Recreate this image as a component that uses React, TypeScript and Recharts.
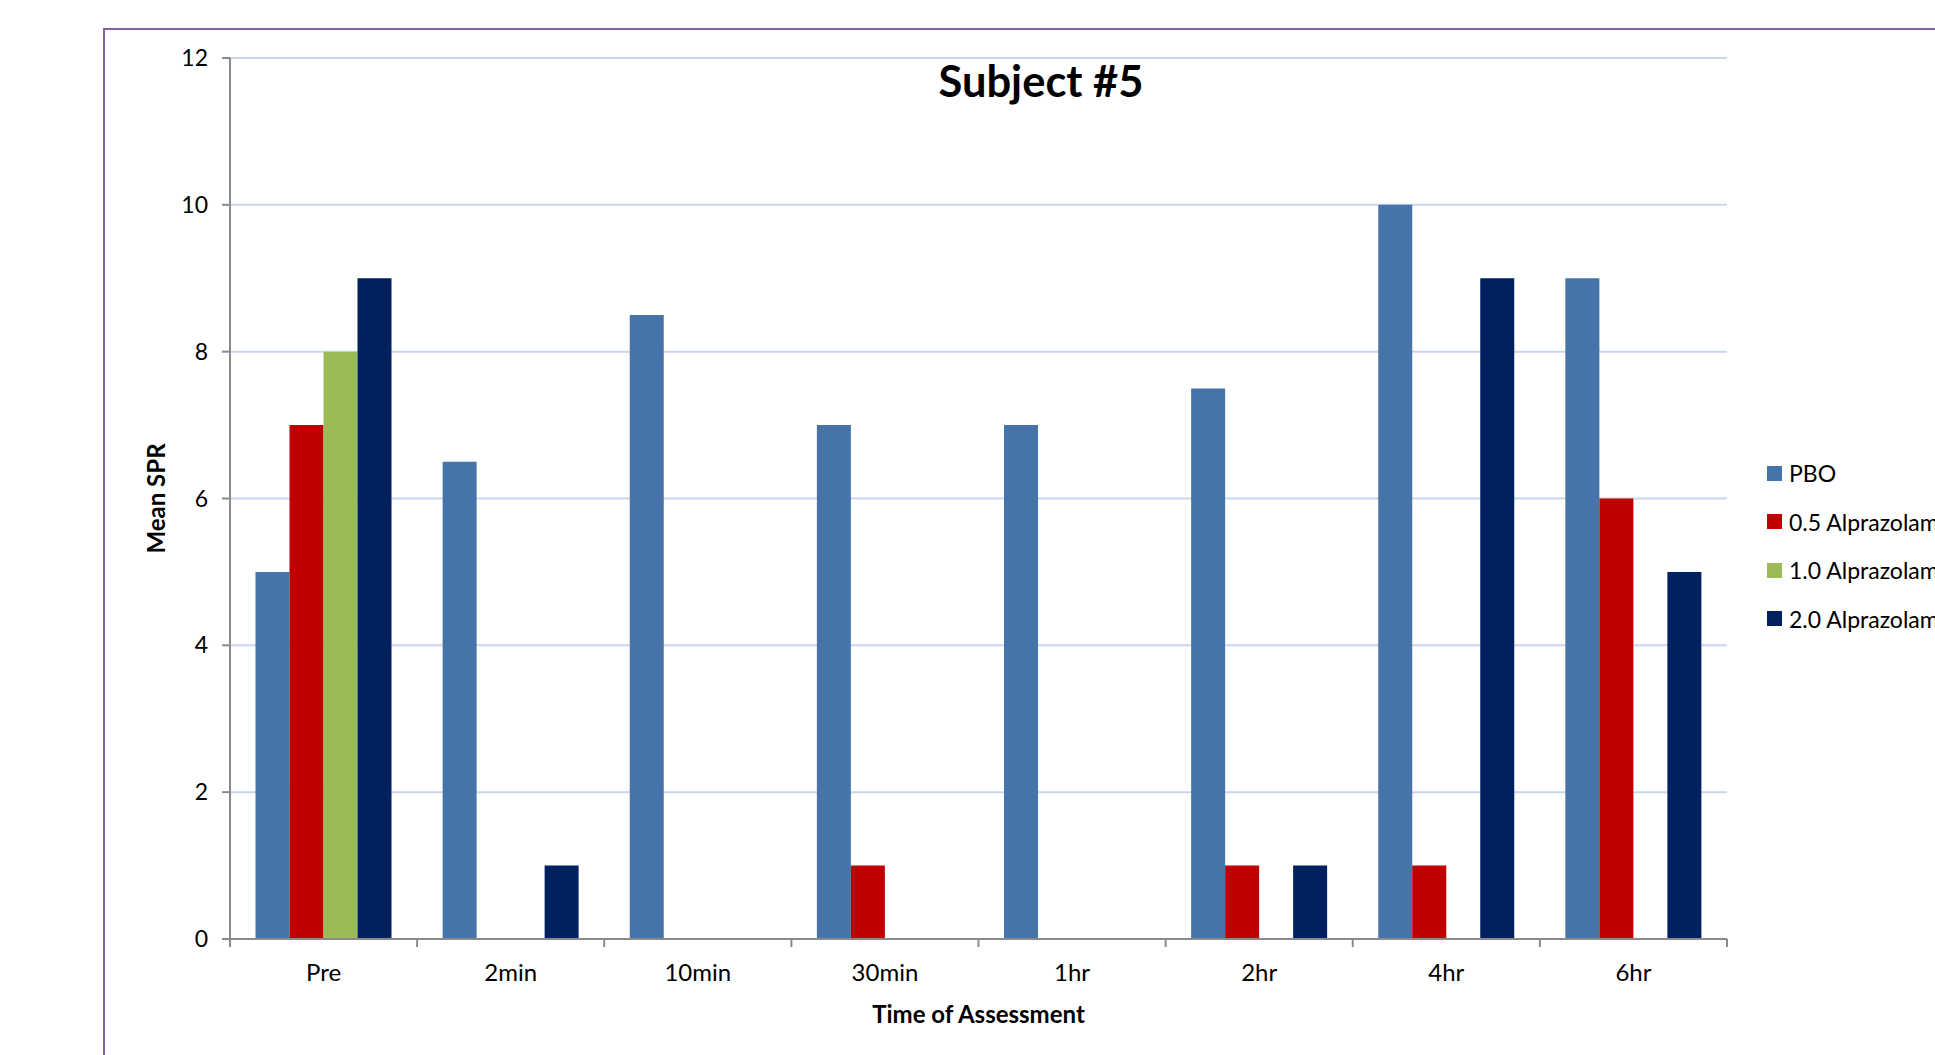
import React from 'react';
import { BarChart, Bar, XAxis, YAxis, CartesianGrid, Legend } from 'recharts';

const categories = ['Pre', '2min', '10min', '30min', '1hr', '2hr', '4hr', '6hr'];
const pbo = [5, 6.5, 8.5, 7, 7, 7.5, 10, 9];
const alp05 = [7, 0, 0, 1, 0, 1, 1, 6];
const alp10 = [8, 0, 0, 0, 0, 0, 0, 0];
const alp20 = [9, 1, 0, 0, 0, 1, 9, 5];
const yTicks = [0, 2, 4, 6, 8, 10, 12];

const series = [
  { key: 'pbo', name: 'PBO', color: '#4673A8', values: pbo },
  { key: 'alp05', name: '0.5 Alprazolam', color: '#C00000', values: alp05 },
  { key: 'alp10', name: '1.0 Alprazolam', color: '#9BBB59', values: alp10 },
  { key: 'alp20', name: '2.0 Alprazolam', color: '#002060', values: alp20 },
];

const data = categories.map((c, i) => {
  const row: Record<string, string | number> = { time: c };
  series.forEach((s) => {
    row[s.key] = s.values[i];
  });
  return row;
});

const W = 1935;
const H = 1055;
const MARGIN = { top: 58, right: 208, bottom: 56, left: 130 };
const Y_AXIS_W = 100;
const PLOT_LEFT = MARGIN.left + Y_AXIS_W;
const PLOT_W = W - MARGIN.right - PLOT_LEFT;
const BAND = PLOT_W / categories.length;
const FONT = 'Lato, "Open Sans", sans-serif';
const AXIS = '#8A8A8A';

// category label plus the Excel-style tick marks on the band boundaries
const CategoryTick = (props: any) => {
  const { x, y, payload, index } = props;
  const left = x - BAND / 2;
  const right = x + BAND / 2;
  return (
    <g>
      <line x1={left} y1={y - 8} x2={left} y2={y} stroke={AXIS} strokeWidth={2} />
      {index === categories.length - 1 && (
        <line x1={right} y1={y - 8} x2={right} y2={y} stroke={AXIS} strokeWidth={2} />
      )}
      <text x={x} y={y + 34} textAnchor="middle" fontSize={24} fontFamily={FONT} fill="#000">
        {payload.value}
      </text>
    </g>
  );
};

const LegendList = () => (
  <div style={{ fontFamily: FONT, fontSize: 23, color: '#000', whiteSpace: 'nowrap' }}>
    {series.map((s) => (
      <div key={s.key} style={{ display: 'flex', alignItems: 'center', height: 48.5 }}>
        <span style={{ display: 'inline-block', width: 15, height: 15, background: s.color, marginRight: 7 }} />
        <span>{s.name}</span>
      </div>
    ))}
  </div>
);

const YTitle = (props: any) => {
  const { viewBox } = props;
  const cx = viewBox.x + 25;
  const cy = viewBox.y + viewBox.height / 2;
  return (
    <text
      x={cx}
      y={cy}
      transform={`rotate(-90, ${cx}, ${cy})`}
      textAnchor="middle"
      dominantBaseline="central"
      fontSize={24}
      fontWeight={700}
      fontFamily={FONT}
      fill="#000"
    >
      Mean SPR
    </text>
  );
};

const XTitle = (props: any) => {
  const { viewBox } = props;
  const cx = viewBox.x + viewBox.width / 2;
  return (
    <text x={cx} y={1023} textAnchor="middle" fontSize={24} fontWeight={700} fontFamily={FONT} fill="#000">
      Time of Assessment
    </text>
  );
};

export default function App() {
  return (
    <div style={{ position: 'absolute', left: 0, top: 0, width: W, height: H, overflow: 'hidden', background: '#fff' }}>
      <div
        style={{
          position: 'absolute',
          left: 103,
          top: 28,
          width: 2100,
          height: 1300,
          border: '2px solid #8064A2',
        }}
      />
      <div
        style={{
          position: 'absolute',
          left: 0,
          top: 54,
          width: 2082,
          textAlign: 'center',
          fontFamily: FONT,
          fontWeight: 700,
          fontSize: 43.5,
          color: '#000',
        }}
      >
        Subject #5
      </div>
      <div style={{ position: 'absolute', left: 0, top: 0 }}>
        <BarChart width={W} height={H} data={data} margin={MARGIN} barGap={0} barCategoryGap={25.5}>
          <CartesianGrid vertical={false} stroke="#C8D6EE" strokeWidth={2} />
          <XAxis
            dataKey="time"
            height={60}
            axisLine={{ stroke: AXIS, strokeWidth: 2 }}
            tickLine={false}
            tick={<CategoryTick />}
            interval={0}
            label={<XTitle />}
          />
          <YAxis
            width={Y_AXIS_W}
            domain={[0, 12]}
            ticks={yTicks}
            interval={0}
            axisLine={{ stroke: AXIS, strokeWidth: 2 }}
            tickLine={{ stroke: AXIS, strokeWidth: 2 }}
            tickSize={8}
            tickMargin={14}
            tick={{ fontSize: 23, fontFamily: FONT, fill: '#000' }}
            label={<YTitle />}
          />
          <Legend
            layout="horizontal"
            verticalAlign="middle"
            align="center"
            content={<LegendList />}
            wrapperStyle={{ position: 'absolute', left: 1767, top: 449, width: 300 }}
          />
          {series.map((s) => (
            <Bar key={s.key} dataKey={s.key} name={s.name} fill={s.color} isAnimationActive={false} />
          ))}
        </BarChart>
      </div>
    </div>
  );
}
